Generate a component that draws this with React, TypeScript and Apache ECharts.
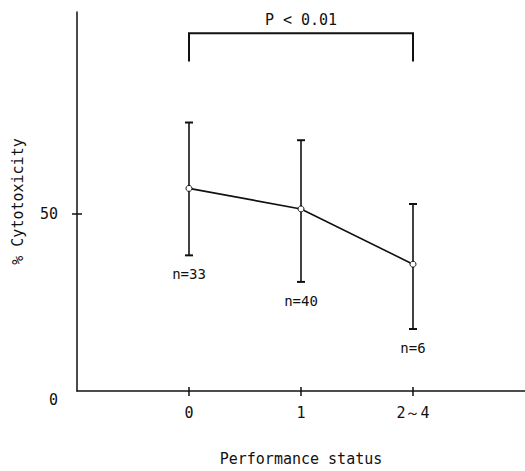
import React, { useEffect, useRef } from "react";
import * as echarts from "echarts";

const categories = ["0", "1", "2～4"];
const means = [57.2, 51.4, 35.8];
const upper = [75.8, 70.8, 52.8];
const lower = [38.3, 30.8, 17.5];
const nLabels = ["n=33", "n=40", "n=6"];
const yTickValues = [0, 50];
const sigFrom = 0;
const sigTo = 2;
const sigTop = 101;
const sigLegBottom = 93;
const sigLabel = "P < 0.01";

const FONT = "DejaVu Sans Mono";
const INK = "#111";

export default function App() {
  const ref = useRef<HTMLDivElement>(null);
  useEffect(() => {
    document.body.style.margin = "0";
    const chart = echarts.init(ref.current!, null, { renderer: "svg" });
    const xIdx = categories.map((_, i) => i);
    const errData = xIdx.map((i) => [i, lower[i], upper[i], i]);
    const option: any = {
      animation: false,
      backgroundColor: "#fff",
      grid: { left: 77, right: -2, top: 12, bottom: 73, containLabel: false },
      xAxis: [
        {
          type: "value",
          min: -1,
          max: 3,
          interval: 1,
          name: "Performance status",
          nameLocation: "middle",
          nameGap: 60,
          nameTextStyle: { fontFamily: FONT, fontSize: 15, color: INK },
          axisLine: { show: true, onZero: false, lineStyle: { color: INK, width: 1.5 } },
          axisTick: { show: true, length: 5, customValues: xIdx, lineStyle: { color: INK, width: 1.5 } },
          axisLabel: {
            show: true,
            customValues: xIdx,
            margin: 14,
            fontFamily: FONT,
            fontSize: 15,
            color: INK,
            formatter: (v: number) => (categories[v] !== undefined && Number.isInteger(v) ? categories[v] : ""),
          },
          splitLine: { show: false },
        },
        {
          type: "value",
          min: -1,
          max: 3,
          interval: 1,
          position: "bottom",
          axisLine: { show: false, onZero: false },
          axisTick: { show: true, inside: true, length: 4, customValues: xIdx, lineStyle: { color: INK, width: 1.5 } },
          axisLabel: { show: false },
          splitLine: { show: false },
        },
      ],
      yAxis: [
        {
          type: "value",
          min: 0,
          max: 107,
          interval: 50,
          name: "% Cytotoxicity",
          nameLocation: "middle",
          nameRotate: 90,
          nameGap: 52,
          nameTextStyle: { fontFamily: FONT, fontSize: 15, color: INK },
          axisLine: { show: true, onZero: false, lineStyle: { color: INK, width: 1.5 } },
          axisTick: { show: true, length: 5, customValues: [50], lineStyle: { color: INK, width: 1.5 } },
          axisLabel: {
            show: true,
            customValues: yTickValues,
            margin: 19,
            fontFamily: FONT,
            fontSize: 15,
            color: INK,
            formatter: (v: number) =>
              yTickValues.indexOf(v) < 0 ? "" : v === 0 ? "{z|" + v + "}" : "{n|" + v + "}",
            rich: {
              z: { padding: [18, 0, 0, 0], fontFamily: FONT, fontSize: 15, color: INK },
              n: { fontFamily: FONT, fontSize: 15, color: INK },
            },
          },
          splitLine: { show: false },
        },
        {
          type: "value",
          min: 0,
          max: 107,
          interval: 50,
          position: "left",
          axisLine: { show: false, onZero: false },
          axisTick: { show: true, inside: true, length: 5, customValues: [50], lineStyle: { color: INK, width: 1.5 } },
          axisLabel: { show: false },
          splitLine: { show: false },
        },
      ],
      series: [
        {
          type: "custom",
          xAxisIndex: 0,
          yAxisIndex: 0,
          data: errData,
          renderItem: (params: any, api: any) => {
            const x = api.value(0);
            const lo = api.coord([x, api.value(1)]);
            const hi = api.coord([x, api.value(2)]);
            const i = api.value(3);
            const cap = 4;
            const st = { stroke: INK, lineWidth: 1.6 };
            return {
              type: "group",
              children: [
                { type: "line", shape: { x1: lo[0], y1: lo[1], x2: hi[0], y2: hi[1] }, style: st },
                { type: "line", shape: { x1: lo[0] - cap, y1: lo[1], x2: lo[0] + cap, y2: lo[1] }, style: { stroke: INK, lineWidth: 2 } },
                { type: "line", shape: { x1: hi[0] - cap, y1: hi[1], x2: hi[0] + cap, y2: hi[1] }, style: { stroke: INK, lineWidth: 2 } },
                {
                  type: "text",
                  x: lo[0],
                  y: lo[1] + 19,
                  style: {
                    text: nLabels[i],
                    fontFamily: FONT,
                    fontSize: 14,
                    fill: INK,
                    align: "center",
                    verticalAlign: "middle",
                  },
                },
              ],
            };
          },
          z: 2,
        },
        {
          type: "line",
          xAxisIndex: 0,
          yAxisIndex: 0,
          data: xIdx.map((i) => [i, means[i]]),
          symbol: "circle",
          symbolSize: 6,
          lineStyle: { color: INK, width: 1.6 },
          itemStyle: { color: "#fff", borderColor: INK, borderWidth: 1 },
          z: 3,
        },
        {
          type: "custom",
          xAxisIndex: 0,
          yAxisIndex: 0,
          data: [[sigFrom, sigTo, sigTop, sigLegBottom]],
          renderItem: (params: any, api: any) => {
            const a = api.coord([api.value(0), api.value(2)]);
            const b = api.coord([api.value(1), api.value(2)]);
            const aB = api.coord([api.value(0), api.value(3)]);
            const bB = api.coord([api.value(1), api.value(3)]);
            return {
              type: "group",
              children: [
                {
                  type: "polyline",
                  shape: { points: [[aB[0], aB[1]], [a[0], a[1]], [b[0], b[1]], [bB[0], bB[1]]] },
                  style: { stroke: INK, lineWidth: 2, fill: "none" },
                },
                {
                  type: "text",
                  x: (a[0] + b[0]) / 2,
                  y: a[1] - 13,
                  style: {
                    text: sigLabel,
                    fontFamily: FONT,
                    fontSize: 15,
                    fill: INK,
                    align: "center",
                    verticalAlign: "middle",
                  },
                },
              ],
            };
          },
        },
      ],
    };
    chart.setOption(option);
    return () => chart.dispose();
  }, []);
  return <div ref={ref} style={{ width: 525, height: 471 }} />;
}
